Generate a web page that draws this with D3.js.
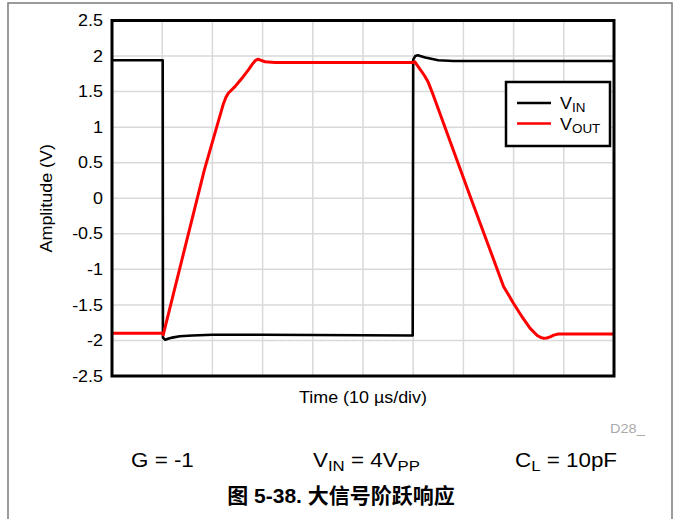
<!DOCTYPE html>
<html>
<head>
<meta charset="utf-8">
<script src="https://cdn.jsdelivr.net/npm/d3@7"></script>
<style>
  html, body { margin: 0; padding: 0; background: #fff; }
  svg { display: block; }
  text { font-family: "Liberation Sans", Arial, "Noto Sans CJK SC", sans-serif; fill: #000; }
</style>
</head>
<body>
<svg id="chart" width="674" height="519"></svg>
<script>
// Time in divisions (10 µs/div), amplitude in volts
const vinTime  = [0, 1.01, 1.015, 1.06, 1.1, 1.2, 1.35, 1.6, 2.0, 3.0, 5.99, 6.0, 6.04, 6.09, 6.24, 6.5, 6.8, 10];
const vinValue = [1.94, 1.94, -1.96, -1.99, -1.98, -1.96, -1.94, -1.93, -1.92, -1.92, -1.93, 1.95, 2.0, 2.01, 1.98, 1.94, 1.93, 1.93];

const voutTime  = [0, 1.01, 1.02, 1.84, 2.22, 2.27, 2.32, 2.45, 2.58, 2.72, 2.80, 2.86, 2.91, 2.97, 3.05, 3.25,
                   6.0, 6.03, 6.12, 6.22, 6.30, 6.40, 7.16, 7.80, 8.0, 8.18, 8.33, 8.47, 8.55, 8.60, 8.66, 8.73, 8.80, 8.89, 10];
const voutValue = [-1.90, -1.90, -1.92, 0.40, 1.33, 1.42, 1.48, 1.57, 1.68, 1.81, 1.89, 1.94, 1.955, 1.94, 1.92, 1.91,
                   1.91, 1.92, 1.83, 1.73, 1.63, 1.45, -0.02, -1.24, -1.48, -1.68, -1.83, -1.93, -1.96, -1.97, -1.965, -1.95, -1.925, -1.91, -1.91];

const yTicks = [2.5, 2, 1.5, 1, 0.5, 0, -0.5, -1, -1.5, -2, -2.5];
const xGrid = [1, 2, 3, 4, 5, 6, 7, 8, 9];
const seriesNames = ["V", "V"];
const seriesSubs = ["IN", "OUT"];
const seriesColors = ["#000000", "#ff0000"];

const svg = d3.select("#chart");
const plot = { left: 112, right: 614, top: 20.5, bottom: 376 };
const WIDE = 1.12; // horizontal stretch of the label lettering

const x = d3.scaleLinear().domain([0, 10]).range([plot.left, plot.right]);
const y = d3.scaleLinear().domain([-2.5, 2.5]).range([plot.bottom, plot.top]);

// places a text at (px, py) with slightly widened lettering
function wideText(parent, px, py, size) {
  return parent.append("text")
    .attr("transform", `translate(${px},${py}) scale(${WIDE},1)`)
    .attr("font-size", size);
}

// outer page frame
svg.append("path")
  .attr("d", "M8,519 V3 H672 V519")
  .attr("fill", "none").attr("stroke", "#7a7a7a").attr("stroke-width", 1.5);

// grid
const grid = svg.append("g").attr("stroke", "#d9d9d9").attr("stroke-width", 1.5);
grid.selectAll("line.h").data(yTicks.filter(d => d > -2.5 && d < 2.5)).join("line")
  .attr("x1", plot.left).attr("x2", plot.right)
  .attr("y1", d => y(d)).attr("y2", d => y(d));
grid.selectAll("line.v").data(xGrid).join("line")
  .attr("y1", plot.top).attr("y2", plot.bottom)
  .attr("x1", d => x(d)).attr("x2", d => x(d));

// y axis labels
const yAxis = d3.axisLeft(y).tickValues(yTicks).tickSize(0).tickPadding(8)
  .tickFormat(d => String(d));
svg.append("g").attr("transform", `translate(${plot.left},0)`).call(yAxis)
  .call(g => g.select(".domain").remove())
  .call(g => g.selectAll("text")
    .attr("font-size", 16)
    .attr("font-family", "Liberation Sans, Arial, sans-serif")
    .attr("fill", "#000")
    .attr("transform", `scale(${WIDE},1)`)
    .attr("x", -9 / WIDE));

// x axis (no tick labels)
const xAxis = d3.axisBottom(x).tickValues([]).tickSize(0);
svg.append("g").attr("transform", `translate(0,${plot.bottom})`).call(xAxis)
  .call(g => g.select(".domain").remove());

// series
const vin = vinTime.map((t, i) => [t, vinValue[i]]);
const vout = voutTime.map((t, i) => [t, voutValue[i]]);
const line = d3.line().x(d => x(d[0])).y(d => y(d[1]));

svg.append("path").datum(vin)
  .attr("d", line)
  .attr("fill", "none")
  .attr("stroke", seriesColors[0]).attr("stroke-width", 2.6).attr("stroke-linejoin", "round");
svg.append("path").datum(vout)
  .attr("d", line)
  .attr("fill", "none")
  .attr("stroke", seriesColors[1]).attr("stroke-width", 3).attr("stroke-linejoin", "round");

// plot frame
svg.append("rect")
  .attr("x", plot.left).attr("y", plot.top)
  .attr("width", plot.right - plot.left).attr("height", plot.bottom - plot.top)
  .attr("fill", "none").attr("stroke", "#000").attr("stroke-width", 3);

// legend
const lg = svg.append("g");
lg.append("rect").attr("x", 506).attr("y", 82).attr("width", 104).attr("height", 64)
  .attr("fill", "#fff").attr("stroke", "#000").attr("stroke-width", 2.5);
seriesNames.forEach((name, i) => {
  const ly = 103 + i * 20.5;
  lg.append("line").attr("x1", 517).attr("x2", 551).attr("y1", ly).attr("y2", ly)
    .attr("stroke", seriesColors[i]).attr("stroke-width", 2.5);
  const t = wideText(lg, 560, ly + 6, 16);
  t.append("tspan").text(name);
  t.append("tspan").attr("font-size", 12).attr("dy", 3).text(seriesSubs[i]);
});

// axis titles
svg.append("text")
  .attr("transform", `translate(52,${(plot.top + plot.bottom) / 2}) rotate(-90) scale(${WIDE},1)`)
  .attr("text-anchor", "middle").attr("font-size", 16)
  .text("Amplitude (V)");
wideText(svg, (plot.left + plot.right) / 2, 403, 16)
  .attr("text-anchor", "middle")
  .text("Time (10 µs/div)");

wideText(svg, 610, 433, 13).style("fill", "#aaaaaa").text("D28_");

// test conditions
const cond = svg.append("g");
wideText(cond, 131, 467, 20).text("G = -1");
const c2 = wideText(cond, 313, 467, 20);
c2.append("tspan").text("V");
c2.append("tspan").attr("font-size", 15).attr("dy", 4).text("IN");
c2.append("tspan").attr("dy", -4).text(" = 4V");
c2.append("tspan").attr("font-size", 15).attr("dy", 4).text("PP");
const c3 = wideText(cond, 515, 467, 20);
c3.append("tspan").text("C");
c3.append("tspan").attr("font-size", 15).attr("dy", 4).text("L");
c3.append("tspan").attr("dy", -4).text(" = 10pF");

// caption
svg.append("text")
  .attr("x", 341).attr("y", 503).attr("text-anchor", "middle")
  .attr("font-size", 21).attr("font-weight", "bold")
  .style("font-family", "'Liberation Sans', 'Noto Sans CJK SC', sans-serif")
  .text("图 5-38. 大信号阶跃响应");
</script>
</body>
</html>
